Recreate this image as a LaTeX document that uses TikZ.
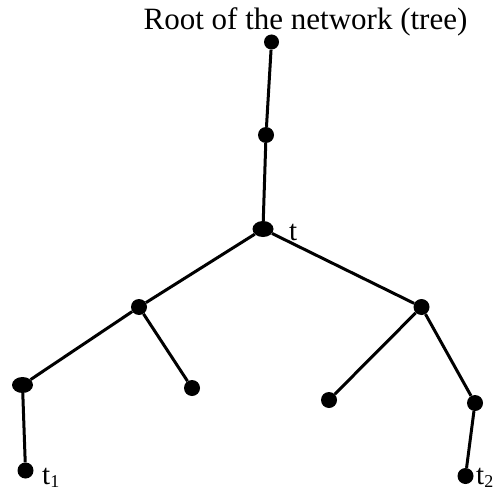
\documentclass[tikz,border=0pt]{standalone}
\usepackage{fontspec}
\setmainfont{Liberation Serif}
\usetikzlibrary{shapes.geometric}
\tikzset{
  dot/.style={circle,fill=black,inner sep=0pt,minimum size=16bp},
  edot/.style={ellipse,fill=black,inner sep=0pt,minimum width=21bp,minimum height=16bp},
  edge/.style={line width=3bp,black},
  lbl/.style={inner sep=0pt,anchor=base west,font=\fontsize{29bp}{34bp}\selectfont}
}
\newcommand{\subnum}[1]{\textsubscript{\fontsize{18bp}{18bp}\selectfont #1}}
\begin{document}
\begin{tikzpicture}[x=1bp,y=-1bp]
\useasboundingbox (0,0) rectangle (498,492);
\node[inner sep=0pt,anchor=base,font=\fontsize{31bp}{37bp}\selectfont] (title) at (305.5,30) {Root of the network (tree)};
\node[dot,minimum size=15bp] (root) at (271.5,42) {};
\node[dot] (n2) at (266,135) {};
\node[edot] (t) at (263,229) {};
\node[dot] (L) at (139,307) {};
\node[dot] (R) at (421.5,307) {};
\node[edot] (LL) at (22.5,385) {};
\node[dot] (LR) at (192,388) {};
\node[dot] (RL) at (329,400) {};
\node[dot] (RR) at (475,403) {};
\node[dot] (T1) at (25.5,470.5) {};
\node[dot] (T2) at (465.5,476) {};
\node[lbl] (tl) at (289,240) {t};
\node[lbl] (t1l) at (42,484) {t\subnum{1}};
\node[lbl] (t2l) at (476,484) {t\subnum{2}};
\draw[edge] (root) -- (n2);
\draw[edge] (n2) -- (t);
\draw[edge] (t) -- (L);
\draw[edge] (t) -- (R);
\draw[edge] (L) -- (LL);
\draw[edge] (L) -- (LR);
\draw[edge] (R) -- (RL);
\draw[edge] (R) -- (RR);
\draw[edge] (LL) -- (T1);
\draw[edge] (RR) -- (T2);
\end{tikzpicture}
\end{document}
